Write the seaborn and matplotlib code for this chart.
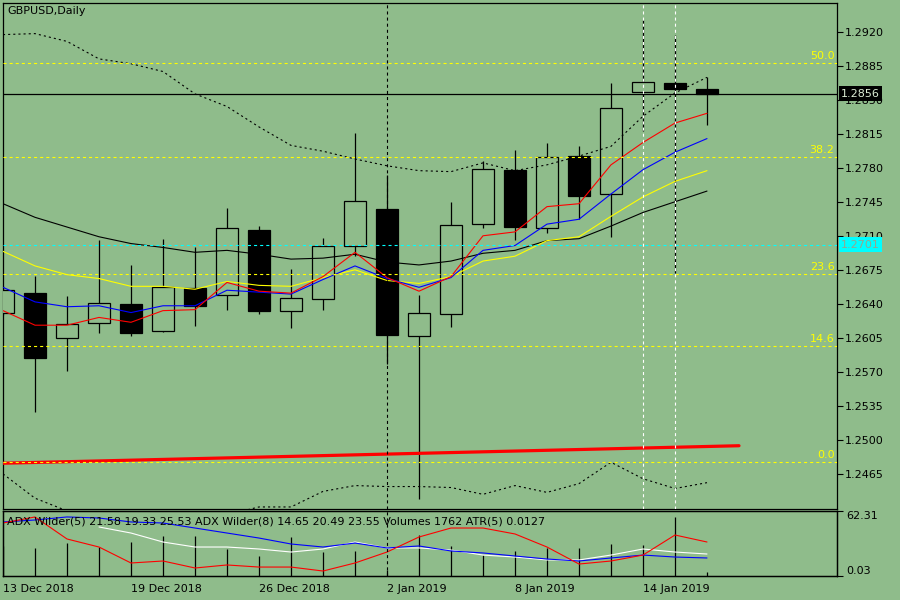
"""
GBPUSD daily chart, MetaTrader look, redrawn with seaborn.
"""

import numpy as np
import pandas as pd
import matplotlib
matplotlib.use('Agg')
import matplotlib.pyplot as plt
import seaborn as sns

BG = '#8FBC8B'

# ---- data ----
dates = ['13 Dec 2018', '14 Dec 2018', '17 Dec 2018', '18 Dec 2018', '19 Dec 2018',
         '20 Dec 2018', '21 Dec 2018', '24 Dec 2018', '26 Dec 2018', '27 Dec 2018',
         '28 Dec 2018', '31 Dec 2018', '2 Jan 2019', '3 Jan 2019', '4 Jan 2019',
         '7 Jan 2019', '8 Jan 2019', '9 Jan 2019', '10 Jan 2019', '11 Jan 2019',
         '14 Jan 2019', '15 Jan 2019', '16 Jan 2019']

opens = [1.2631, 1.2651, 1.2605, 1.2620, 1.2640, 1.2612, 1.2656, 1.2649, 1.2716, 1.2633,
         1.2645, 1.2699, 1.2738, 1.2607, 1.2630, 1.2722, 1.2778, 1.2718, 1.2792, 1.2753,
         1.2858, 1.2867, 1.2861]
highs = [1.2658, 1.2669, 1.2648, 1.2706, 1.2680, 1.2707, 1.2698, 1.2739, 1.2720, 1.2676,
         1.2708, 1.2816, 1.2773, 1.2649, 1.2745, 1.2787, 1.2798, 1.2805, 1.2802, 1.2867,
         1.2932, 1.2917, 1.2873]
lows = [1.2628, 1.2529, 1.2571, 1.2610, 1.2607, 1.2611, 1.2617, 1.2634, 1.2630, 1.2615,
        1.2634, 1.2689, 1.2578, 1.2439, 1.2616, 1.2718, 1.2706, 1.2713, 1.2727, 1.2709,
        1.2818, 1.2672, 1.2824]
closes = [1.2654, 1.2584, 1.2619, 1.2641, 1.2610, 1.2657, 1.2638, 1.2718, 1.2633, 1.2646,
          1.2700, 1.2746, 1.2608, 1.2631, 1.2721, 1.2779, 1.2719, 1.2791, 1.2751, 1.2841,
          1.2868, 1.2861, 1.2856]

ma_black = [1.2743, 1.2729, 1.2719, 1.2709, 1.2702, 1.2698, 1.2693, 1.2695, 1.2691, 1.2686,
            1.2687, 1.2691, 1.2683, 1.2680, 1.2684, 1.2692, 1.2695, 1.2705, 1.2707, 1.2720,
            1.2734, 1.2745, 1.2756]
ma_yellow = [1.2694, 1.2679, 1.2670, 1.2666, 1.2658, 1.2658, 1.2655, 1.2663, 1.2659, 1.2658,
             1.2667, 1.2675, 1.2664, 1.2661, 1.2668, 1.2684, 1.2689, 1.2705, 1.2709, 1.2730,
             1.2750, 1.2766, 1.2777]
ma_blue = [1.2657, 1.2642, 1.2637, 1.2638, 1.2631, 1.2638, 1.2638, 1.2654, 1.2652, 1.2650,
           1.2665, 1.2679, 1.2666, 1.2657, 1.2667, 1.2695, 1.2700, 1.2722, 1.2727, 1.2753,
           1.2778, 1.2796, 1.2810]
ma_red = [1.2633, 1.2618, 1.2618, 1.2626, 1.2621, 1.2633, 1.2634, 1.2662, 1.2653, 1.2651,
          1.2668, 1.2693, 1.2667, 1.2653, 1.2668, 1.2710, 1.2714, 1.2740, 1.2743, 1.2783,
          1.2806, 1.2826, 1.2836]
band_upper = [1.2917, 1.2918, 1.2910, 1.2892, 1.2887, 1.2879, 1.2856, 1.2843, 1.2822, 1.2803,
              1.2797, 1.2789, 1.2782, 1.2777, 1.2776, 1.2785, 1.2777, 1.2783, 1.2792, 1.2802,
              1.2833, 1.2857, 1.2873]
band_lower = [1.2465, 1.2440, 1.2427, 1.2421, 1.2419, 1.2417, 1.2419, 1.2423, 1.2431, 1.2431,
              1.2447, 1.2453, 1.2452, 1.2452, 1.2451, 1.2444, 1.2453, 1.2446, 1.2455, 1.2477,
              1.2460, 1.2450, 1.2456]

# long red trend line (two anchors)
trend_x = [0, 23]
trend_y = [1.2476, 1.2494]

fib_levels = [0.0, 14.6, 23.6, 38.2, 50.0]
fib_low, fib_high = 1.2477, 1.3299
cyan_level = 1.2701

# lower window
adx_red = [50.8, 56.6, 35.5, 27.8, 12.5, 14.4, 7.7, 10.6, 8.6, 8.6, 4.8, 12.5, 23.0,
           37.4, 46.0, 46.0, 40.3, 27.8, 11.5, 14.4, 20.1, 39.3, 32.6]
adx_blue = [51.8, 53.7, 56.6, 55.6, 51.8, 50.8, 46.0, 41.2, 36.4, 30.7, 27.8, 31.6, 26.9,
            28.8, 24.0, 22.1, 19.2, 16.3, 14.4, 17.3, 20.1, 18.2, 17.3]
adx_white = [np.nan, np.nan, np.nan, 47.0, 41.2, 32.6, 27.8, 27.8, 25.9, 23.0, 25.9, 32.6,
             26.9, 26.9, 24.9, 20.1, 18.2, 15.4, 15.4, 20.1, 25.9, 23.0, 21.1]
volumes = [13000, 12300, 14500, 12800, 15000, 17600, 17600, 11900, 8800, 17200, 10600,
           11000, 2500, 18000, 13200, 9200, 11000, 12300, 12300, 14100, 13600, 26000, 1762]

sub_title = ('ADX Wilder(5) 21.58 19.33 25.53 ADX Wilder(8) 14.65 20.49 23.55 '
             'Volumes 1762 ATR(5) 0.0127')

# ---- style ----
sns.set_style('white', {'axes.facecolor': BG, 'figure.facecolor': BG,
                        'axes.edgecolor': 'black', 'text.color': 'black',
                        'xtick.color': 'black', 'ytick.color': 'black'})
plt.rcParams['font.family'] = ['DejaVu Sans']
plt.rcParams['lines.scale_dashes'] = False
plt.rcParams['axes.linewidth'] = 0.9

df = pd.DataFrame({'i': np.arange(len(dates)), 'open': opens, 'high': highs,
                   'low': lows, 'close': closes, 'black': ma_black,
                   'yellow': ma_yellow, 'blue': ma_blue, 'red': ma_red,
                   'up': band_upper, 'dn': band_lower, 'adx_r': adx_red,
                   'adx_b': adx_blue, 'adx_w': adx_white, 'vol': volumes})

fig = plt.figure(figsize=(9, 6), dpi=100, facecolor=BG)
ax = fig.add_axes([3 / 900, 1 - 509 / 600, 834 / 900, 506 / 600])
ax_sub = fig.add_axes([3 / 900, 1 - 576 / 600, 834 / 900, 65 / 600])

# ---- candles ----
bear = df['close'] < df['open']
ax.vlines(df['i'], df['low'], df['high'], color='black', lw=0.9, zorder=2)
ax.bar(df['i'], (df['close'] - df['open']).abs(),
       bottom=df[['open', 'close']].min(axis=1), width=0.69,
       color=np.where(bear, 'black', BG), edgecolor='black', linewidth=0.9, zorder=3)

# ---- indicators ----
dotted = (0, (1.5, 2.2))
dash = (0, (2.2, 2.2))
for col, c, ls in [('up', 'black', dotted), ('dn', 'black', dotted),
                   ('black', 'black', '-'), ('yellow', '#FFFF00', '-'),
                   ('blue', '#0000FF', '-'), ('red', '#FF0000', '-')]:
    sns.lineplot(data=df, x='i', y=col, ax=ax, color=c, lw=0.8, linestyle=ls, zorder=5)
sns.lineplot(x=trend_x, y=trend_y, ax=ax, color='#FF0000', lw=2.3, zorder=5)

for lvl in fib_levels:
    price = fib_low + (fib_high - fib_low) * lvl / 100
    ax.axhline(price, color='#FFFF00', lw=0.8, linestyle=dash, zorder=6)
    ax.annotate(f'{lvl:.1f}', xy=(0.997, price), xycoords=ax.get_yaxis_transform(),
                xytext=(0, 1.5), textcoords='offset points', ha='right', va='bottom',
                color='#FFFF00', fontsize=8, zorder=7)

ax.axhline(cyan_level, color='#00FFFF', lw=0.8, linestyle=dash, zorder=6)
ax.axhline(closes[-1], color='black', lw=0.9, zorder=6)
ax.axvline(12, color='black', lw=0.8, linestyle=dash, zorder=6)
for v in (20, 21):
    ax.axvline(v, color='white', lw=0.8, linestyle=dash, zorder=6)

# price labels on the scale (they cover the tick labels, as in the terminal)
ax.text(1.005, closes[-1], f'{closes[-1]:.4f}', transform=ax.get_yaxis_transform(),
        ha='left', va='center', fontsize=8, color='#dcecd4', zorder=10, clip_on=False,
        bbox=dict(boxstyle='square,pad=0.22', fc='black', ec='none'))
ax.text(1.005, cyan_level, f'{cyan_level:.4f}', transform=ax.get_yaxis_transform(),
        ha='left', va='center', fontsize=8, color='#93a890', zorder=10, clip_on=False,
        bbox=dict(boxstyle='square,pad=0.22', fc='#00FFFF', ec='none'))

ax.set_xlim(0, 834 / 32)
ax.set_ylim(1.24289, 1.29495)
ax.yaxis.tick_right()
ax.set_yticks(np.round(1.2920 - 0.0035 * np.arange(14), 4))
ax.yaxis.set_major_formatter(matplotlib.ticker.FormatStrFormatter('%.4f'))
ax.tick_params(axis='y', direction='out', length=4, width=0.8, labelsize=8, pad=1.5,
               colors='black')
ax.tick_params(axis='x', bottom=False, labelbottom=False)
ax.set_xlabel('')
ax.set_ylabel('')

# ---- lower window ----
ax_sub.vlines(df['i'], 0, df['vol'], color='black', lw=0.9)
ax_sub.set_ylim(0, 28600)
ax_sub.set_yticks([])
ax_sub.set_xlim(ax.get_xlim())
ax_sub.set_xticks(df['i'][::4], [dates[k] for k in range(0, len(dates), 4)], ha='left')
ax_sub.tick_params(axis='x', direction='out', length=4, width=0.8, labelsize=8, pad=2,
                   colors='black')

ax_adx = ax_sub.twinx()
for col, c in [('adx_w', 'white'), ('adx_b', '#0000FF'), ('adx_r', '#FF0000')]:
    sns.lineplot(data=df, x='i', y=col, ax=ax_adx, color=c, lw=0.8)
ax_adx.axvline(12, color='black', lw=0.8, linestyle=dash)
ax_adx.set_xlim(ax.get_xlim())
ax_adx.set_ylim(0.03, 62.31)
ax_adx.set_yticks([0.03, 62.31], ['0.03', '62.31'])
for lab, va in zip(ax_adx.get_yticklabels(), ['bottom', 'top']):
    lab.set_verticalalignment(va)
ax_adx.tick_params(axis='y', direction='out', length=4, width=0.8, labelsize=8, pad=3,
                   colors='black')
ax_adx.set_xlabel('')
ax_adx.set_ylabel('')
ax_sub.set_xlabel('')

fig.text(7 / 900, 1 - 6 / 600, 'GBPUSD,Daily', ha='left', va='top', fontsize=8,
         color='black')
fig.text(7 / 900, 1 - 516 / 600, sub_title, ha='left', va='top', fontsize=8,
         color='black', zorder=10)

fig.savefig('out.png', dpi=100, facecolor=BG)
